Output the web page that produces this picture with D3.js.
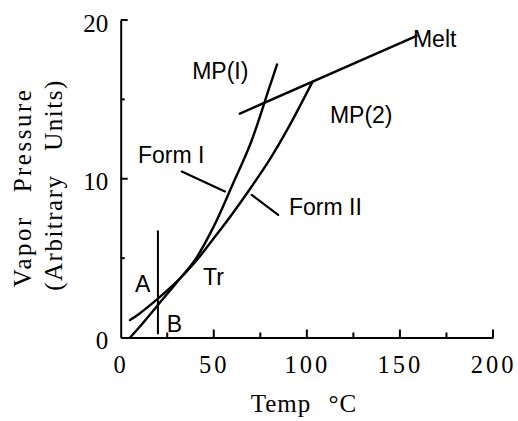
<!DOCTYPE html>
<html>
<head>
<meta charset="utf-8">
<script src="https://cdn.jsdelivr.net/npm/d3@7"></script>
<style>
  html, body { margin: 0; padding: 0; background: #fff; }
  svg { display: block; }
  .serif { font-family: "Liberation Serif", "Times New Roman", serif; fill: #000; }
  .sans { font-family: "Liberation Sans", Arial, sans-serif; fill: #000; }
</style>
</head>
<body>
<svg id="chart" width="518" height="421"></svg>
<script>
// Vapor pressure curves of two polymorphs (Form I, Form II) and the melt
const formITemp = [5, 10, 20, 30, 40, 50, 60, 70, 80, 84];
const formIPress = [0, 0.65, 2.05, 3.45, 4.9, 7.0, 9.6, 12.3, 15.8, 17.2];

const formIITemp = [5, 10, 20, 30, 40, 50, 60, 70, 80, 90, 103];
const formIIPress = [1.1, 1.5, 2.45, 3.5, 4.75, 6.25, 7.8, 9.45, 11.2, 13.2, 16.1];

const meltTemp = [64, 159];
const meltPress = [14.1, 19.0];

// Vertical marker separating regions A and B
const markerTemp = [20, 20];
const markerPress = [0.25, 6.7];

// Axis ticks
const xMajorTicks = [0, 50, 100, 150, 200];
const xMinorTicks = [25, 75, 125, 175];
const yMajorTicks = [0, 10, 20];
const yMinorTicks = [5, 15];

// Annotation labels: text, temperature, pressure (label anchor)
const labelText = ["MP(I)", "Form I", "Form II", "MP(2)", "Melt", "A", "B", "Tr"];
const labelTemp = [53.5, 9.3, 90.4, 112.4, 157, 7.7, 24.8, 44.2];
const labelPress = [16.3, 11.0, 7.7, 13.5, 18.3, 2.85, 0.35, 3.3];
const labelAnchor = ["middle", "start", "start", "start", "start", "start", "start", "start"];

// Leader lines pointing from labels to the curves: [t1, p1, t2, p2]
const leaderFormI = [32.8, 10.45, 56, 9.2];
const leaderFormII = [70.4, 8.98, 84.6, 7.72];

const svg = d3.select("#chart");

const x = d3.scaleLinear().domain([0, 200]).range([120.7, 493]);
const y = d3.scaleLinear().domain([0, 20]).range([337.5, 20]);

// X axis (labels from d3.axisBottom, inward ticks drawn below)
const xAxis = svg.append("g")
  .attr("transform", `translate(0,${y(0)})`)
  .call(d3.axisBottom(x).tickValues(xMajorTicks).tickSize(0).tickFormat(d3.format("d")));
xAxis.select(".domain").attr("stroke", "#000").attr("stroke-width", 2);
xAxis.selectAll(".tick text")
  .attr("class", "serif")
  .attr("y", 35.5).attr("dy", null)
  .attr("dx", 0)
  .style("font-size", "24.5px")
  .style("letter-spacing", "3px");

// Y axis
const yAxis = svg.append("g")
  .attr("transform", `translate(${x(0)},0)`)
  .call(d3.axisLeft(y).tickValues(yMajorTicks).tickSize(0).tickFormat(d3.format("d")));
yAxis.select(".domain").attr("stroke", "#000").attr("stroke-width", 2);
yAxis.selectAll(".tick text")
  .attr("class", "serif")
  .attr("x", -12.5).attr("dy", null).attr("y", 11)
  .attr("text-anchor", "end")
  .style("font-size", "25px");

// Inward tick marks
const tickGroup = svg.append("g").attr("stroke", "#000").attr("stroke-width", 2);
tickGroup.selectAll(".xmaj").data(xMajorTicks.filter(d => d > 0)).join("line")
  .attr("class", "xmaj")
  .attr("x1", d => x(d)).attr("x2", d => x(d))
  .attr("y1", y(0)).attr("y2", y(0) - 8);
tickGroup.selectAll(".xmin").data(xMinorTicks).join("line")
  .attr("class", "xmin")
  .attr("x1", d => x(d)).attr("x2", d => x(d))
  .attr("y1", y(0)).attr("y2", y(0) - 5);
tickGroup.selectAll(".ymaj").data(yMajorTicks.filter(d => d > 0)).join("line")
  .attr("class", "ymaj")
  .attr("x1", x(0)).attr("x2", x(0) + 7)
  .attr("y1", d => y(d)).attr("y2", d => y(d));
tickGroup.selectAll(".ymin").data(yMinorTicks).join("line")
  .attr("class", "ymin")
  .attr("x1", x(0)).attr("x2", x(0) + 4)
  .attr("y1", d => y(d)).attr("y2", d => y(d));

// Axis titles
svg.append("text")
  .attr("class", "serif")
  .attr("transform", `translate(31,${187.5}) rotate(-90)`)
  .attr("text-anchor", "middle")
  .style("font-size", "25px")
  .style("letter-spacing", "2.5px")
  .style("word-spacing", "14px")
  .text("Vapor Pressure");

svg.append("text")
  .attr("class", "serif")
  .attr("transform", `translate(62,${185}) rotate(-90)`)
  .attr("text-anchor", "middle")
  .style("font-size", "25px")
  .style("letter-spacing", "1.5px")
  .style("word-spacing", "16px")
  .text("(Arbitrary Units)");

svg.append("text")
  .attr("class", "serif")
  .attr("x", 304).attr("y", 412)
  .attr("text-anchor", "middle")
  .style("font-size", "25px")
  .style("letter-spacing", "1px")
  .style("word-spacing", "10px")
  .text("Temp °C");

// Curves
const line = d3.line()
  .x(d => x(d[0]))
  .y(d => y(d[1]))
  .curve(d3.curveCatmullRom.alpha(0.5));

const straight = d3.line()
  .x(d => x(d[0]))
  .y(d => y(d[1]));

function pairs(ts, ps) { return ts.map((t, i) => [t, ps[i]]); }

const curveGroup = svg.append("g")
  .attr("fill", "none")
  .attr("stroke", "#000")
  .attr("stroke-width", 2.4)
  .attr("stroke-linecap", "round");

curveGroup.append("path").attr("d", line(pairs(formITemp, formIPress)));
curveGroup.append("path").attr("d", line(pairs(formIITemp, formIIPress)));
curveGroup.append("path").attr("d", straight(pairs(meltTemp, meltPress)));
curveGroup.append("path").attr("d", straight(pairs(markerTemp, markerPress))).attr("stroke-width", 2);

// Leader lines
[leaderFormI, leaderFormII].forEach(l => {
  curveGroup.append("path")
    .attr("d", straight([[l[0], l[1]], [l[2], l[3]]]))
    .attr("stroke-width", 2.2);
});

// Labels
svg.append("g")
  .selectAll("text")
  .data(labelText)
  .join("text")
  .attr("class", "sans")
  .attr("x", (d, i) => x(labelTemp[i]))
  .attr("y", (d, i) => y(labelPress[i]))
  .attr("text-anchor", (d, i) => labelAnchor[i])
  .style("font-size", "23px")
  .text(d => d);
</script>
</body>
</html>
